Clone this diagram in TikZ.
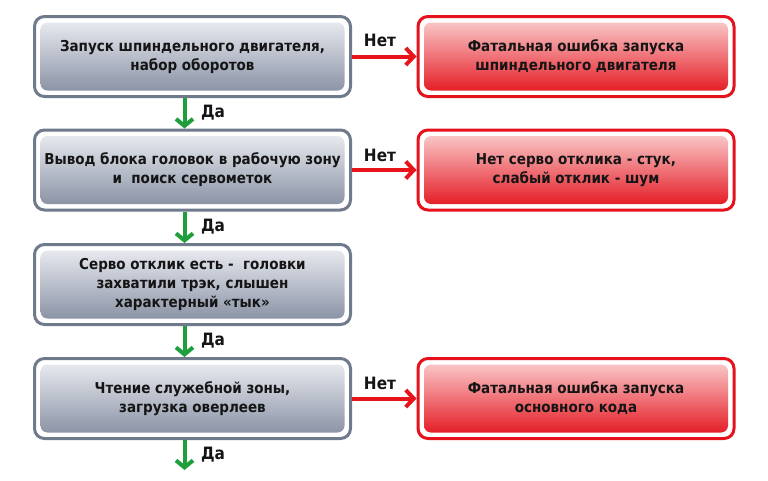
\documentclass[tikz,border=0pt]{standalone}
\usepackage{fontspec}
\setmainfont{DejaVu Sans Condensed}[BoldFont={DejaVu Sans Condensed Bold}]
\usetikzlibrary{arrows.meta}
\definecolor{frameGray}{HTML}{6F7A8C}
\definecolor{grayTop}{HTML}{EEF0F4}
\definecolor{grayBot}{HTML}{838CA0}
\definecolor{frameRed}{HTML}{E5121B}
\definecolor{redTop}{HTML}{FBD3D3}
\definecolor{redBot}{HTML}{E3101A}
\definecolor{arrowGreen}{HTML}{1F9E3C}
\definecolor{arrowRed}{HTML}{E8141C}
\definecolor{textDark}{HTML}{151515}
\tikzset{
  boxbase/.style={rounded corners=10pt, line width=3pt, fill=white,
    minimum width=316pt, minimum height=80pt, inner sep=0pt, align=center,
    text=textDark, font=\bfseries\fontsize{15}{19}\selectfont},
  gbox/.style={boxbase, draw=frameGray,
    path picture={\shade[top color=grayTop, bottom color=grayBot, rounded corners=7pt]
      ([shift={(6pt,-6pt)}]path picture bounding box.north west) rectangle
      ([shift={(-6pt,6pt)}]path picture bounding box.south east);}},
  rbox/.style={boxbase, draw=frameRed,
    path picture={\shade[top color=redTop, bottom color=redBot, rounded corners=7pt]
      ([shift={(6pt,-6pt)}]path picture bounding box.north west) rectangle
      ([shift={(-6pt,6pt)}]path picture bounding box.south east);}},
  yesarrow/.style={draw=arrowGreen, line width=4pt,
    -{Straight Barb[length=7pt,width=17pt,line width=4pt]}},
  noarrow/.style={draw=arrowRed, line width=4pt,
    -{Straight Barb[length=8pt,width=17pt,line width=4pt]}},
  lbl/.style={font=\bfseries\fontsize{17}{19}\selectfont, text=textDark, inner sep=0pt}
}
\begin{document}
\begin{tikzpicture}[x=1pt,y=-1pt]
\fill[white] (0,0) rectangle (768,480);
\useasboundingbox (0,0) rectangle (768,480);

\node[gbox] (g1) at (192.5,56.5) {Запуск шпиндельного двигателя,\\набор оборотов};
\node[gbox] (g2) at (192.5,170) {Вывод блока головок в рабочую зону\\и\ \ поиск сервометок};
\node[gbox] (g3) at (192.5,284.5) {Серво отклик есть -\ \ головки\\захватили трэк, слышен\\характерный «тык»};
\node[gbox] (g4) at (192.5,398.5) {Чтение служебной зоны,\\загрузка оверлеев};

\node[rbox] (r1) at (576,56.5) {Фатальная ошибка запуска\\шпиндельного двигателя};
\node[rbox] (r2) at (576,170) {Нет серво отклика - стук,\\слабый отклик - шум};
\node[rbox] (r4) at (576,398.5) {Фатальная ошибка запуска\\основного кода};

\draw[yesarrow] ([xshift=-8pt]g1.south) -- ([xshift=-8pt]g2.north);
\draw[yesarrow] ([xshift=-8pt]g2.south) -- ([xshift=-8pt]g3.north);
\draw[yesarrow] ([xshift=-8pt]g3.south) -- ([xshift=-8pt]g4.north);
\coordinate (g4end) at ([xshift=-8pt,yshift=-30pt]g4.south);
\draw[yesarrow] ([xshift=-8pt]g4.south) -- (g4end);

\draw[noarrow] (g1.east) -- (r1.west);
\draw[noarrow] (g2.east) -- (r2.west);
\draw[noarrow] (g4.east) -- (r4.west);

\node[lbl] (y1) at (213,113) {Да};
\node[lbl] (y2) at (213,227) {Да};
\node[lbl] (y3) at (213,341) {Да};
\node[lbl] (y4) at (213,455) {Да};
\node[lbl] (n1) at (380,40) {Нет};
\node[lbl] (n2) at (380,155) {Нет};
\node[lbl] (n4) at (380,383) {Нет};
\end{tikzpicture}
\end{document}
